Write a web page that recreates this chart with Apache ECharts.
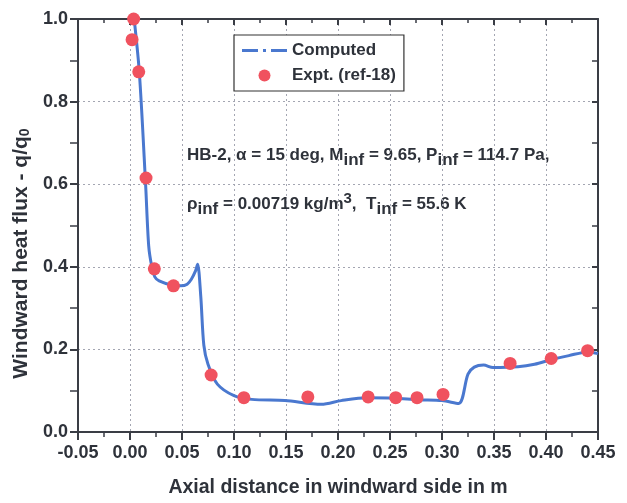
<!DOCTYPE html>
<html>
<head>
<meta charset="utf-8">
<script src="https://cdn.jsdelivr.net/npm/echarts@6/dist/echarts.min.js"></script>
<style>
body { margin: 0; background: #fff; }
#main { width: 627px; height: 503px; }
</style>
</head>
<body>
<div id="main"></div>
<script>
// computed curve, [axial distance (m), q/q0]
var computed = [
  [0.004, 1.0], [0.009, 0.87], [0.015, 0.6], [0.018, 0.45], [0.021, 0.40],
  [0.024, 0.375], [0.028, 0.366], [0.04, 0.356], [0.049, 0.354], [0.055, 0.358],
  [0.059, 0.37], [0.063, 0.39], [0.065, 0.406], [0.068, 0.33], [0.071, 0.21],
  [0.075, 0.164], [0.084, 0.116], [0.1, 0.088], [0.117, 0.079], [0.149, 0.076],
  [0.184, 0.067], [0.203, 0.076], [0.228, 0.083], [0.254, 0.082], [0.277, 0.078],
  [0.3, 0.076], [0.316, 0.069], [0.325, 0.14], [0.331, 0.157], [0.34, 0.162],
  [0.349, 0.156], [0.373, 0.158], [0.389, 0.164], [0.406, 0.176], [0.422, 0.185],
  [0.441, 0.194], [0.45, 0.19]
]
// experiment (ref-18)
var expt = [
  [0.0035, 1.0], [0.002, 0.95], [0.0084, 0.872], [0.0154, 0.615], [0.0234, 0.395],
  [0.0418, 0.354], [0.078, 0.138], [0.1095, 0.083], [0.171, 0.085], [0.229, 0.085],
  [0.2555, 0.083], [0.276, 0.083], [0.301, 0.091], [0.3655, 0.166], [0.405, 0.178],
  [0.44, 0.197]
]

var font = "'Liberation Sans', Arial, sans-serif"
var axisColor = '#3a3d45'
var textColor = '#2e323a'
var lineColor = '#4a78cf'
var dotColor = '#f0525f'

var chartDom = document.getElementById('main')
var myChart = echarts.init(chartDom)
var option = {
  animation: false,
  grid: { left: 78, right: 29, top: 19, bottom: 64 },
  legend: {
    left: 234,
    top: 35,
    orient: 'vertical',
    backgroundColor: '#fff',
    borderColor: '#333',
    borderWidth: 1.2,
    padding: [7, 8, 7, 8],
    itemGap: 8,
    itemWidth: 45,
    itemHeight: 12,
    symbolKeepAspect: true,
    textStyle: { fontFamily: font, fontWeight: 'bold', fontSize: 17, color: textColor },
    data: [
      { name: 'Computed', icon: 'path://M0,0h16v3h-16Z M21,0h3v3h-3Z M29,0h16v3h-16Z', itemStyle: { color: lineColor } },
      { name: 'Expt. (ref-18)', icon: 'circle', itemStyle: { color: dotColor } }
    ]
  },
  xAxis: [{
    type: 'value',
    min: -0.05,
    max: 0.45,
    interval: 0.05,
    name: 'Axial distance in windward side in m',
    nameLocation: 'middle',
    nameGap: 46,
    nameTextStyle: { fontFamily: font, fontWeight: 'bold', fontSize: 19.5, color: textColor },
    axisLine: { onZero: false, lineStyle: { color: axisColor, width: 2 } },
    axisTick: { inside: false, length: 8, lineStyle: { color: axisColor, width: 2 } },
    minorTick: { show: true, splitNumber: 2, length: 5, lineStyle: { color: axisColor, width: 1.5 } },
    axisLabel: {
      margin: 12,
      fontFamily: font, fontWeight: 'bold', fontSize: 18, color: textColor,
      formatter: function (v) { return v.toFixed(2) }
    },
    splitLine: { show: true, lineStyle: { color: '#a4a6b2', type: [2, 3], width: 1 } }
  }, {
    type: 'value',
    position: 'top',
    min: -0.05,
    max: 0.45,
    interval: 0.05,
    axisLine: { onZero: false, lineStyle: { color: axisColor, width: 2 } },
    axisTick: { inside: true, length: 6, lineStyle: { color: axisColor, width: 2 } },
    minorTick: { show: true, splitNumber: 2, length: 4, lineStyle: { color: axisColor, width: 1.5 } },
    axisLabel: { show: false },
    splitLine: { show: false }
  }],
  yAxis: [{
    type: 'value',
    min: 0,
    max: 1,
    interval: 0.2,
    name: 'Windward heat flux - q/q{sub|0}',
    nameLocation: 'middle',
    nameRotate: 90,
    nameGap: 43,
    nameTextStyle: {
      fontFamily: font, fontWeight: 'bold', fontSize: 21, color: textColor,
      padding: [0, 56, 0, 0],
      rich: { sub: { fontFamily: font, fontWeight: 'bold', fontSize: 14, color: textColor, verticalAlign: 'bottom', padding: [8, 0, 0, 0] } }
    },
    axisLine: { onZero: false, lineStyle: { color: axisColor, width: 2 } },
    axisTick: { inside: false, length: 8, lineStyle: { color: axisColor, width: 2 } },
    minorTick: { show: true, splitNumber: 2, length: 8, lineStyle: { color: axisColor, width: 1.5 } },
    axisLabel: {
      margin: 10,
      fontFamily: font, fontWeight: 'bold', fontSize: 18, color: textColor,
      formatter: function (v) { return v.toFixed(1) }
    },
    splitLine: { show: true, lineStyle: { color: '#a4a6b2', type: [2, 3], width: 1 } }
  }, {
    type: 'value',
    position: 'right',
    min: 0,
    max: 1,
    interval: 0.2,
    axisLine: { onZero: false, lineStyle: { color: axisColor, width: 2 } },
    axisTick: { inside: true, length: 6, lineStyle: { color: axisColor, width: 2 } },
    minorTick: { show: true, splitNumber: 2, length: 6, lineStyle: { color: axisColor, width: 1.5 } },
    axisLabel: { show: false },
    splitLine: { show: false }
  }],
  graphic: [{
    type: 'text',
    left: 187,
    top: 147,
    style: {
      text: 'HB-2, α = 15 deg, M{sub|inf} = 9.65, P{sub|inf} = 114.7 Pa,',
      font: 'bold 17px ' + font,
      fill: textColor,
      rich: { sub: { font: 'bold 17px ' + font, fill: textColor, padding: [10, 0, 0, 0] } }
    }
  }, {
    type: 'text',
    left: 187,
    top: 191,
    style: {
      text: 'ρ{sub|inf} = 0.00719 kg/m{sup|3},  T{sub|inf} = 55.6 K',
      font: 'bold 17px ' + font,
      fill: textColor,
      rich: {
        sub: { font: 'bold 17px ' + font, fill: textColor, padding: [10, 0, 0, 0] },
        sup: { font: 'bold 15px ' + font, fill: textColor, padding: [0, 0, 12, 0] }
      }
    }
  }],
  series: [{
    name: 'Computed',
    type: 'line',
    data: computed,
    symbol: 'none',
    smooth: 0.3,
    lineStyle: { color: lineColor, width: 3 },
    itemStyle: { color: lineColor },
    z: 3
  }, {
    name: 'Expt. (ref-18)',
    type: 'scatter',
    data: expt,
    symbolSize: 13,
    itemStyle: { color: dotColor, opacity: 1 },
    z: 4
  }]
}
myChart.setOption(option)
</script>
</body>
</html>
